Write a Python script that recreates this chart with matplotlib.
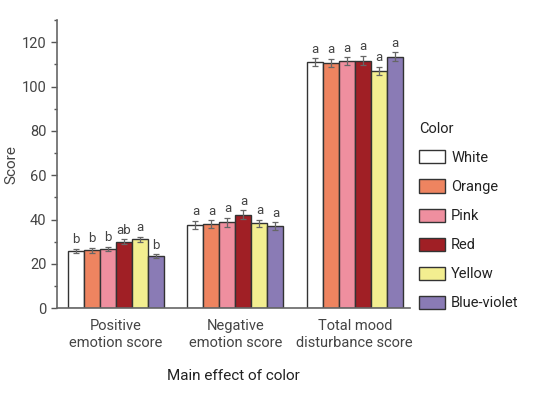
import numpy as np
import matplotlib
matplotlib.use('Agg')
import matplotlib.pyplot as plt
from matplotlib.ticker import MultipleLocator

plt.rcParams['font.family'] = ['Roboto', 'DejaVu Sans']

# data
categories = ['Positive\nemotion score', 'Negative\nemotion score', 'Total mood\ndisturbance score']
colors_names = ['White', 'Orange', 'Pink', 'Red', 'Yellow', 'Blue-violet']
bar_colors = ['#ffffff', '#ee8460', '#ef8f9f', '#a01f25', '#f3ee90', '#8a7bb5']

white = [25.8, 37.6, 111.0]
orange = [26.1, 37.8, 110.8]
pink = [26.6, 38.8, 111.4]
red = [30.0, 42.2, 111.8]
yellow = [31.0, 38.2, 107.0]
blue_violet = [23.5, 37.0, 113.5]

white_err = [1.0, 1.8, 1.8]
orange_err = [1.0, 1.8, 1.8]
pink_err = [1.0, 2.0, 1.8]
red_err = [1.0, 2.0, 2.0]
yellow_err = [1.2, 1.8, 1.8]
blue_violet_err = [0.8, 1.8, 2.0]

letters = [['b', 'a', 'a'], ['b', 'a', 'a'], ['b', 'a', 'a'],
           ['ab', 'a', 'a'], ['a', 'a', 'a'], ['b', 'a', 'a']]

series = [white, orange, pink, red, yellow, blue_violet]
errors = [white_err, orange_err, pink_err, red_err, yellow_err, blue_violet_err]

fig = plt.figure(figsize=(5.37, 3.96), dpi=100)
ax = fig.add_axes([0.106, 0.222, 0.657, 0.727])

x = np.arange(len(categories))
w = 0.134
txt = '#444444'

for i, (vals, errs) in enumerate(zip(series, errors)):
    pos = x + (i - 2.5) * w
    ax.bar(pos, vals, w, color=bar_colors[i], edgecolor='#333333', linewidth=1.0,
           label=colors_names[i], zorder=2)
    ax.errorbar(pos, vals, yerr=errs, fmt='none', ecolor='#666666', elinewidth=0.9,
                capsize=2.5, capthick=0.9, zorder=3)
    for j in range(len(x)):
        ax.text(pos[j], vals[j] + errs[j] + 1.2, letters[i][j], ha='center', va='bottom',
                fontsize=9.5, color=txt)

ax.set_xlim(-0.495, 2.46)
ax.set_ylim(0, 130)
ax.yaxis.set_major_locator(MultipleLocator(20))
ax.yaxis.set_minor_locator(MultipleLocator(10))
ax.set_xticks(x)
ax.set_xticklabels(categories, fontsize=10.5, color=txt, linespacing=1.3)
ax.tick_params(axis='x', length=0, pad=8)
ax.tick_params(axis='y', which='major', direction='out', length=4, width=1, colors='#555555',
               labelsize=10.5, labelcolor=txt)
ax.tick_params(axis='y', which='minor', direction='out', length=2.5, width=1, colors='#555555')

for s in ['top', 'right']:
    ax.spines[s].set_visible(False)
for s in ['left', 'bottom']:
    ax.spines[s].set_color('#666666')
    ax.spines[s].set_linewidth(1.2)

ax.set_ylabel('Score', fontsize=11, color=txt)
ax.yaxis.set_label_coords(-0.108, 0.5)
ax.set_xlabel('Main effect of color', fontsize=11, color='#222222', labelpad=13)

leg = ax.legend(title='Color', loc='upper left', bbox_to_anchor=(1.01, 0.665), frameon=False,
                fontsize=10.5, title_fontsize=10.5, handlelength=1.8, handleheight=1.0,
                labelspacing=1.0, handletextpad=0.4, borderaxespad=0)
leg._legend_box.align = 'left'
leg._legend_box.sep = 10
for t in leg.get_texts():
    t.set_color('#222222')
leg.get_title().set_color('#222222')

fig.savefig('out.png', dpi=100)
